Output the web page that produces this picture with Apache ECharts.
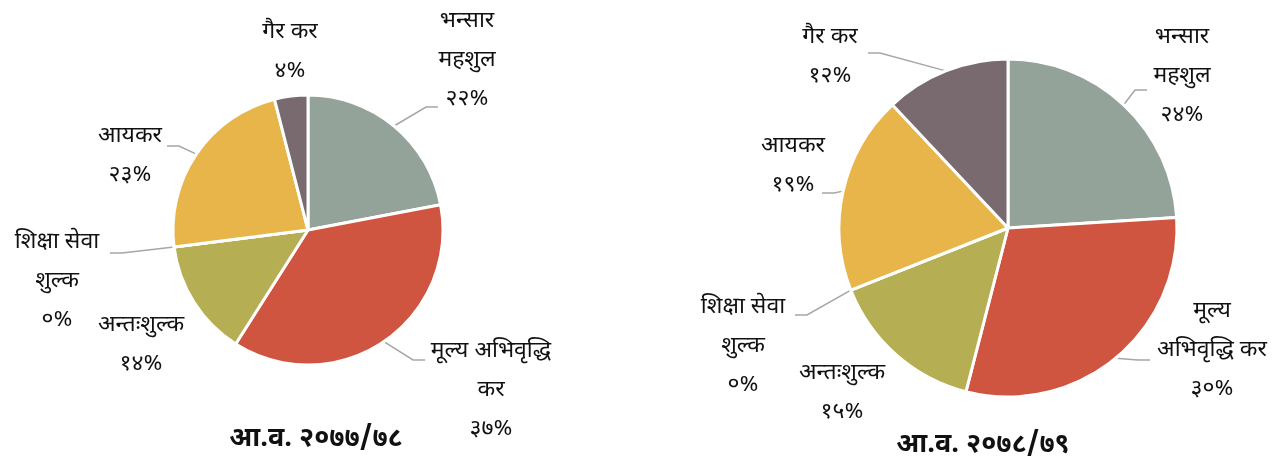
<!DOCTYPE html>
<html>
<head>
<meta charset="utf-8">
<script src="https://cdn.jsdelivr.net/npm/echarts@6/dist/echarts.min.js"></script>
<style>
  html, body { margin: 0; padding: 0; background: #fff; }
  #main { width: 1272px; height: 461px; }
</style>
</head>
<body>
<div id="main"></div>
<script>
// राजस्व संरचना (प्रतिशत)
const categories = ['भन्सार महशुल', 'मूल्य अभिवृद्धि कर', 'अन्तःशुल्क', 'शिक्षा सेवा शुल्क', 'आयकर', 'गैर कर'];
const shares7778 = [22, 37, 14, 0, 23, 4];
const shares7879 = [24, 30, 15, 0, 19, 12];
const titles = ['आ.व. २०७७/७८', 'आ.व. २०७८/७९'];
// लेबलमा देखिने रूप (लाइन तोडेर)
const labels7778 = ['भन्सार\nमहशुल', 'मूल्य अभिवृद्धि\nकर', 'अन्तःशुल्क', 'शिक्षा सेवा\nशुल्क', 'आयकर', 'गैर कर'];
const labels7879 = ['भन्सार\nमहशुल', 'मूल्य\nअभिवृद्धि कर', 'अन्तःशुल्क', 'शिक्षा सेवा\nशुल्क', 'आयकर', 'गैर कर'];

// लेबलको स्थान (लेआउट मात्र)
const labelPos = [
    [[467, 62], [491, 392], [141, 346], [57, 283], [130, 157], [290, 53]],
    [[1182, 78], [1212, 352], [842, 394], [743, 348], [793, 167], [830, 58]]
];
// डोरी लेबलमा जोडिने बिन्दु (लेबल केन्द्रबाट), null = डोरी छैन
const lineEnd = [
    [[-29, 45], [-66, -32], null, [53, -30], [37, -11], null],
    [[-35, 12], [-62, 8], null, [52, -33], [29, 26], [38, -5]]
];

const colors = ['#94a399', '#cf5540', '#b5ae52', '#4f81bd', '#e8b54a', '#786a6e'];
const fontFamily = "'Noto Sans Devanagari', 'Lohit Devanagari', 'Noto Sans', sans-serif";

function toDev(n) {
    const d = '०१२३४५६७८९';
    return String(n).replace(/[0-9]/g, function (c) { return d[+c]; });
}

function makePie(idx, values, labels, center, radius) {
    let data = categories.map(function (name, i) {
        return {
            name: name,
            value: values[i],
            labelLine: { show: lineEnd[idx][i] !== null }
        };
    });
    return {
        type: 'pie',
        center: center,
        radius: radius,
        startAngle: 90,
        clockwise: true,
        avoidLabelOverlap: false,
        itemStyle: {
            borderColor: '#fff',
            borderWidth: 3
        },
        label: {
            show: true,
            position: 'outside',
            color: '#111',
            fontFamily: fontFamily,
            fontSize: 23,
            lineHeight: 39,
            align: 'center',
            formatter: function (p) {
                return labels[p.dataIndex] + '\n' + toDev(p.value) + '%';
            }
        },
        labelLine: {
            show: true,
            length: 12,
            length2: 14,
            lineStyle: { color: '#a6a6a6', width: 1.5 }
        },
        labelLayout: function (params) {
            let i = params.dataIndex;
            let pos = labelPos[idx][i];
            let res = {
                x: pos[0],
                y: pos[1],
                align: 'center',
                verticalAlign: 'middle'
            };
            let end = lineEnd[idx][i];
            if (end && params.labelLinePoints) {
                let p0 = params.labelLinePoints[0];
                let ex = pos[0] + end[0];
                let ey = pos[1] + end[1];
                let dir = ex > p0[0] ? -1 : 1;
                res.labelLinePoints = [[p0[0], p0[1]], [ex + dir * 12, ey], [ex, ey]];
            }
            return res;
        },
        emphasis: { disabled: true },
        data: data
    };
}

let chart = echarts.init(document.getElementById('main'));
let titleStyle = { fontFamily: fontFamily, fontSize: 27, lineHeight: 30, fontWeight: 'bold', color: '#111' };
let option = {
    animation: false,
    color: colors,
    title: [{
        text: titles[0],
        left: 316,
        top: 426,
        padding: 0,
        textAlign: 'center',
        textStyle: titleStyle
    }, {
        text: titles[1],
        left: 983,
        top: 432,
        padding: 0,
        textAlign: 'center',
        textStyle: titleStyle
    }],
    series: [
        makePie(0, shares7778, labels7778, [308, 230], 135),
        makePie(1, shares7879, labels7879, [1008, 228], 169)
    ]
};
chart.setOption(option);
</script>
</body>
</html>
